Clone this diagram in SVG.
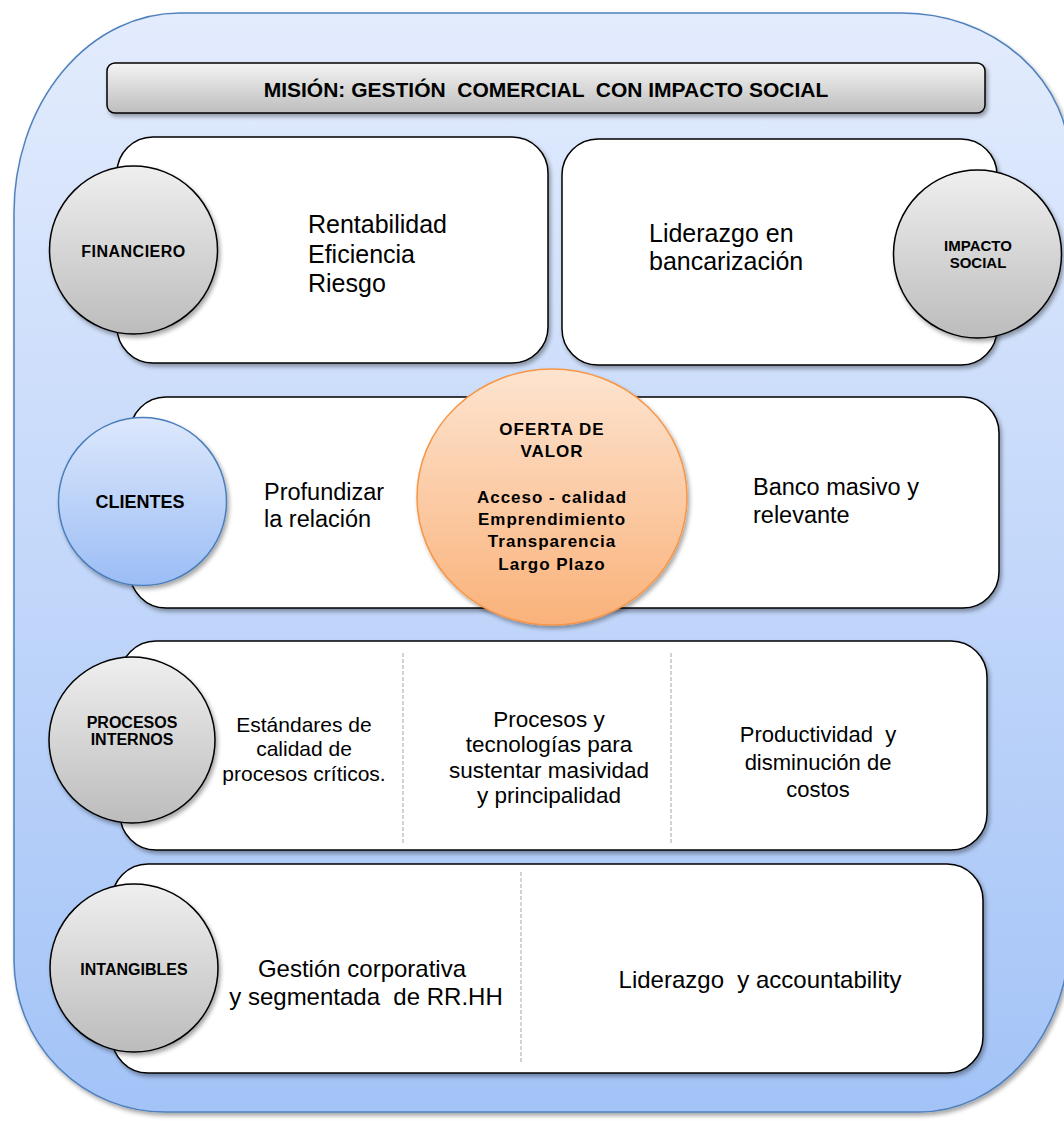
<svg xmlns="http://www.w3.org/2000/svg" width="1064" height="1121" viewBox="0 0 1064 1121">
<defs>
<linearGradient id="bg" x1="0" y1="0" x2="0" y2="1"><stop offset="0" stop-color="#e3ecfd"/><stop offset="1" stop-color="#a3c3f7"/></linearGradient>
<linearGradient id="gray" x1="0" y1="0" x2="0" y2="1"><stop offset="0" stop-color="#efefef"/><stop offset="1" stop-color="#bcbcbc"/></linearGradient>
<linearGradient id="bar" x1="0" y1="0" x2="0" y2="1"><stop offset="0" stop-color="#f4f4f4"/><stop offset="1" stop-color="#bdbdbd"/></linearGradient>
<linearGradient id="blue" x1="0" y1="0" x2="0" y2="1"><stop offset="0" stop-color="#dde8fc"/><stop offset="1" stop-color="#9bbdf5"/></linearGradient>
<linearGradient id="orange" x1="0" y1="0" x2="0" y2="1"><stop offset="0" stop-color="#fde4d0"/><stop offset="1" stop-color="#fab27a"/></linearGradient>
<filter id="sh" x="-10%" y="-10%" width="120%" height="125%"><feDropShadow dx="2" dy="3" stdDeviation="2" flood-color="#000" flood-opacity="0.35"/></filter>
</defs>
<style>
.panel{fill:#fff;stroke:#000;stroke-width:1.5;filter:url(#sh)}
.gc{fill:url(#gray);stroke:#000;stroke-width:1.5;filter:url(#sh)}
.lbl{font-family:"Liberation Sans",Arial,sans-serif;font-weight:bold;fill:#000;text-anchor:middle}
.txt{font-family:"Liberation Sans",Arial,sans-serif;fill:#000}
.mid{text-anchor:middle}
.dash{stroke:#a6a6a6;stroke-width:1;stroke-dasharray:4 2;fill:none}
</style>
<g id="background">
<path d="M180,13 L902,13 A168,150 0 0 1 1070,163 L1070,932 A151,180 0 0 1 919,1112 L165,1112 A151,152 0 0 1 14,960 L14,213 A166,200 0 0 1 180,13 Z" fill="url(#bg)" stroke="#4f81bd" stroke-width="1.5" filter="url(#sh)"/>
</g>
<g id="mision">
<rect x="107" y="63" width="878" height="50" rx="8" fill="url(#bar)" stroke="#000" stroke-width="1.5" filter="url(#sh)"/>
<text class="lbl" x="546" y="97" font-size="21" style="white-space:pre">MISIÓN: GESTIÓN  COMERCIAL  CON IMPACTO SOCIAL</text>
</g>
<g id="financiero">
<rect class="panel" x="117" y="137" width="431" height="226" rx="36"/>
<circle class="gc" cx="133.5" cy="250" r="84"/>
<text class="lbl" x="133.5" y="257" font-size="16" letter-spacing="0.5">FINANCIERO</text>
<text class="txt" font-size="25"><tspan x="308" y="233">Rentabilidad</tspan><tspan x="308" y="263">Eficiencia</tspan><tspan x="308" y="292">Riesgo</tspan></text>
</g>
<g id="impacto-social">
<rect class="panel" x="562" y="139" width="435" height="226" rx="36"/>
<circle class="gc" cx="977.5" cy="254" r="84"/>
<text class="lbl" font-size="15"><tspan x="978" y="251">IMPACTO</tspan><tspan x="978" y="268">SOCIAL</tspan></text>
<text class="txt" font-size="25"><tspan x="649" y="242">Liderazgo en</tspan><tspan x="649" y="270">bancarización</tspan></text>
</g>
<g id="clientes">
<rect class="panel" x="130" y="397" width="869" height="211" rx="36"/>
<circle cx="142.5" cy="501.5" r="84" fill="url(#blue)" stroke="#4a7ebb" stroke-width="1.5" filter="url(#sh)"/>
<text class="lbl" x="140" y="508" font-size="18">CLIENTES</text>
<text class="txt" font-size="23.5"><tspan x="264" y="500">Profundizar</tspan><tspan x="264" y="527">la relación</tspan></text>
<text class="txt" font-size="23.5"><tspan x="753" y="495">Banco masivo y</tspan><tspan x="753" y="523">relevante</tspan></text>
</g>
<g id="oferta-de-valor">
<ellipse cx="552" cy="497" rx="135" ry="128" fill="url(#orange)" stroke="#f79646" stroke-width="1.5" filter="url(#sh)"/>
<text class="lbl" font-size="17" letter-spacing="1"><tspan x="552" y="435">OFERTA DE</tspan><tspan x="552" y="457">VALOR</tspan><tspan x="552" y="503">Acceso - calidad</tspan><tspan x="552" y="525">Emprendimiento</tspan><tspan x="552" y="547">Transparencia</tspan><tspan x="552" y="570">Largo Plazo</tspan></text>
</g>
<g id="procesos-internos">
<rect class="panel" x="120" y="641" width="867" height="209" rx="36"/>
<line class="dash" x1="403" y1="653" x2="403" y2="845"/>
<line class="dash" x1="671" y1="653" x2="671" y2="845"/>
<circle class="gc" cx="132" cy="740" r="83"/>
<text class="lbl" font-size="16"><tspan x="132" y="728">PROCESOS</tspan><tspan x="132" y="745">INTERNOS</tspan></text>
<text class="txt mid" font-size="21"><tspan x="304" y="732">Estándares de</tspan><tspan x="304" y="756">calidad de</tspan><tspan x="304" y="781">procesos críticos.</tspan></text>
<text class="txt mid" font-size="22.5"><tspan x="549" y="727">Procesos y</tspan><tspan x="549" y="752">tecnologías para</tspan><tspan x="549" y="778">sustentar masividad</tspan><tspan x="549" y="803">y principalidad</tspan></text>
<text class="txt mid" font-size="22" style="white-space:pre"><tspan x="818" y="742">Productividad  y</tspan><tspan x="818" y="770">disminución de</tspan><tspan x="818" y="797">costos</tspan></text>
</g>
<g id="intangibles">
<rect class="panel" x="112" y="864" width="871" height="209" rx="36"/>
<line class="dash" x1="521" y1="872" x2="521" y2="1064"/>
<circle class="gc" cx="134" cy="968" r="84"/>
<text class="lbl" x="134" y="975" font-size="16">INTANGIBLES</text>
<text class="txt mid" font-size="24" style="white-space:pre"><tspan x="362" y="977">Gestión corporativa</tspan><tspan x="366" y="1005">y segmentada  de RR.HH</tspan></text>
<text class="txt mid" font-size="24" style="white-space:pre"><tspan x="760" y="988">Liderazgo  y accountability</tspan></text>
</g>
<g id="connectors"/>
</svg>
